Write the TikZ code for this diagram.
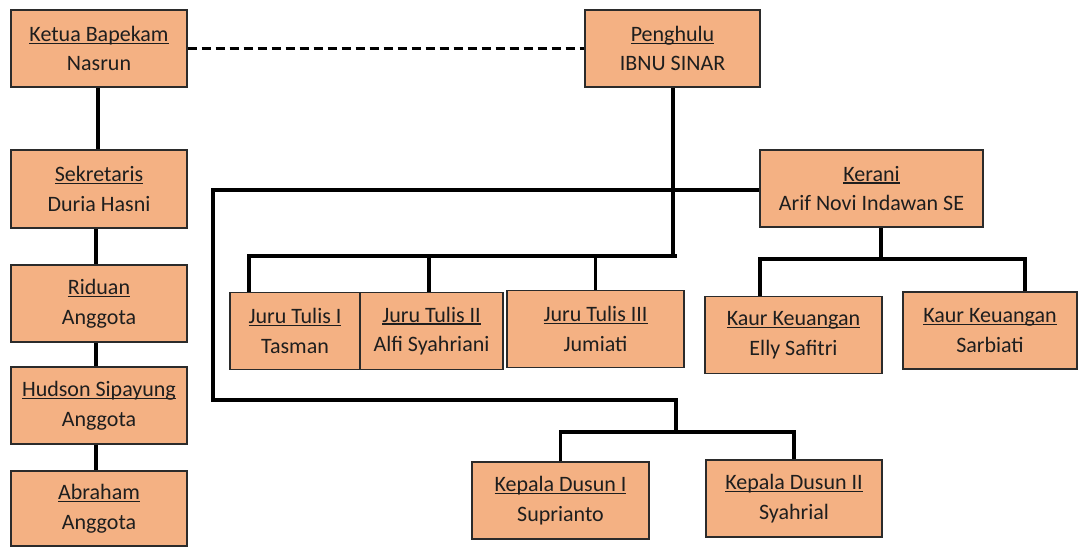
\documentclass[tikz,border=0pt]{standalone}
\usepackage{fontspec}
\setmainfont{Carlito}
\definecolor{boxfill}{HTML}{F4B183}
\definecolor{boxline}{HTML}{2B2B2B}
\definecolor{textcol}{HTML}{1E1E1E}
\newcommand{\myul}[1]{\setbox0\hbox{#1}\rlap{\rule[-2.5pt]{\wd0}{1.3pt}}\box0}
\begin{document}
\begin{tikzpicture}[x=1pt,y=-1pt,
  orgbox/.style={draw=boxline, fill=boxfill, line width=1.4pt, inner sep=0pt,
    align=center, font=\fontsize{22}{29.5}\selectfont, text=textcol},
  conn/.style={line width=3.3pt, black, line join=miter},
  dashconn/.style={conn, dash pattern=on 9pt off 5pt}]
\useasboundingbox (0,0) rectangle (1079,547);
% left column
\node[orgbox, minimum width=176pt, minimum height=77pt] (ketua) at (99,48.5) {\myul{Ketua Bapekam}\\Nasrun};
\node[orgbox, minimum width=176pt, minimum height=78pt] (sek) at (99,189) {\myul{Sekretaris}\\Duria Hasni};
\node[orgbox, minimum width=176pt, minimum height=77pt] (rid) at (99,303.5) {\myul{Riduan}\\Anggota};
\node[orgbox, minimum width=176pt, minimum height=77pt] (hud) at (99,405.5) {\myul{Hudson Sipayung}\\Anggota};
\node[orgbox, minimum width=176pt, minimum height=75pt] (abr) at (99,508.5) {\myul{Abraham}\\Anggota};
% top right
\node[orgbox, minimum width=175pt, minimum height=77pt] (peng) at (672.5,48.5) {\myul{Penghulu}\\IBNU SINAR};
\node[orgbox, minimum width=223pt, minimum height=77pt] (ker) at (871.5,188.5) {\myul{Kerani}\\Arif Novi Indawan SE};
% juru tulis
\node[orgbox, minimum width=130pt, minimum height=77pt] (jt1) at (295,331) {\myul{Juru Tulis I}\\Tasman};
\node[orgbox, minimum width=143pt, minimum height=77pt] (jt2) at (431.5,331) {\myul{Juru Tulis II}\\Alfi Syahriani};
\node[orgbox, minimum width=177pt, minimum height=77pt] (jt3) at (595.5,329) {\myul{Juru Tulis III}\\Jumiati};
% kaur keuangan
\node[orgbox, minimum width=177pt, minimum height=77pt] (kk1) at (793.5,335) {\myul{Kaur Keuangan}\\Elly Safitri};
\node[orgbox, minimum width=174pt, minimum height=77pt] (kk2) at (990,330.5) {\myul{Kaur Keuangan}\\Sarbiati};
% kepala dusun
\node[orgbox, minimum width=177pt, minimum height=77pt] (kd1) at (560.5,500.5) {\myul{Kepala Dusun I}\\Suprianto};
\node[orgbox, minimum width=176pt, minimum height=77pt] (kd2) at (794,498.5) {\myul{Kepala Dusun II}\\Syahrial};
% coordinates
\coordinate (jb) at (677,256);
\coordinate (jd1) at (249,256);
\coordinate (kb) at (881,259);
\coordinate (kbl) at (760,259);
\coordinate (kbr) at (1025,259);
\coordinate (t1) at (213,190);
\coordinate (t2) at (213,400);
\coordinate (t3) at (676,400);
\coordinate (t4) at (676,432);
% connectors
\draw[dashconn] (ketua.east) -- (peng.west);
\draw[conn] (ketua.south -| 98,0) -- (sek.north -| 98,0);
\draw[conn] (sek.south -| 96,0) -- (rid.north -| 96,0);
\draw[conn] (rid.south -| 96,0) -- (hud.north -| 96,0);
\draw[conn] (hud.south -| 96,0) -- (abr.north -| 96,0);
\draw[conn] (peng.south -| 673,0) -- (jb -| 673,0) -- (jb);
\draw[conn] (jd1 |- jt1.north) -- (jd1) -- (jb);
\draw[conn] (jt2.north -| 429,0) -- (jb -| 429,0);
\draw[conn] (jt3.north) -- (jt3.north |- jb);
\draw[conn] (ker.south -| kb) -- (kb);
\draw[conn] (kbl |- kk1.north) -- (kbl) -- (kbr) -- (kbr |- kk2.north);
\draw[conn] (t1 -| ker.west) -- (t1) -- (t2) -- (t3) -- (t4);
\draw[conn] (kd1.north) -- (kd1.north |- t4) -- (kd2.north |- t4) -- (kd2.north);
\end{tikzpicture}
\end{document}
